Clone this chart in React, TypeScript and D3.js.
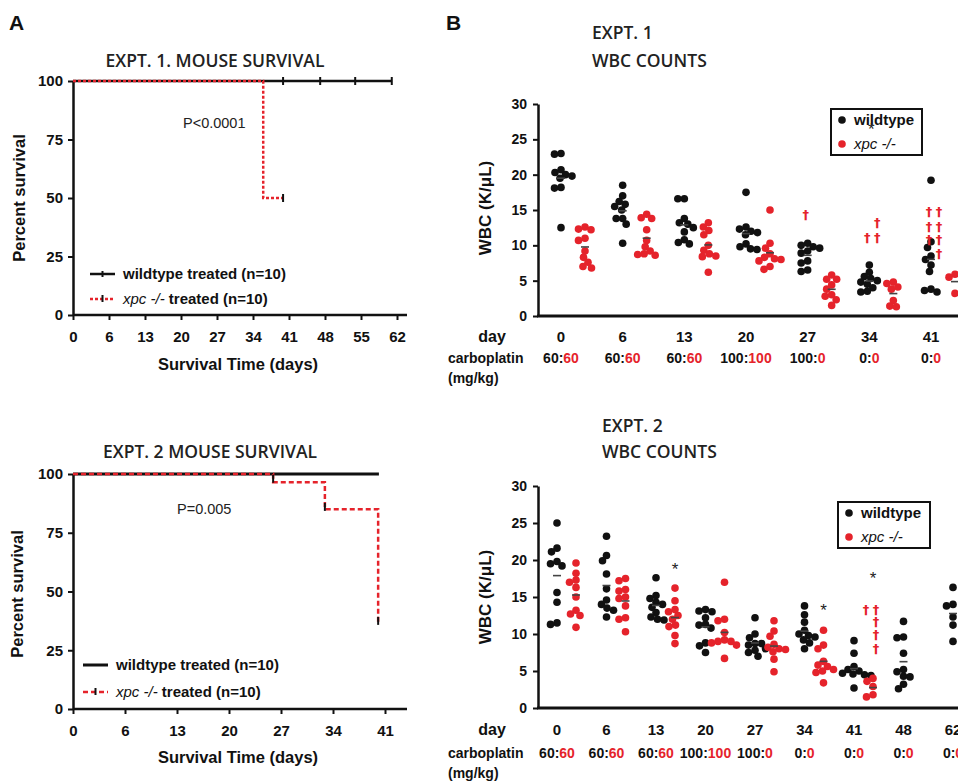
import React, { useEffect, useRef } from 'react';
import * as d3 from 'd3';

const RED = '#e5232b';
const INK = '#111';
const SANS = '"Liberation Sans", Arial, sans-serif';
const TITLE_FONT = '"Open Sans", sans-serif';

// ---- Panel A, expt 1 survival ----
const surv1Ticks = ['0', '6', '13', '20', '27', '34', '41', '48', '55', '62'];
const surv1Wt = [{ t: 0, s: 100 }, { t: 61, s: 100 }];
const surv1Xpc = [{ t: 0, s: 100 }, { t: 36.4, s: 50 }, { t: 40.2, s: 50 }];
const surv1Censor = [
    { t: 40.2, s: 100 }, { t: 47.3, s: 100 }, { t: 54, s: 100 }, { t: 61, s: 100 }, { t: 40.2, s: 50 }
];

// ---- Panel A, expt 2 survival ----
const surv2Ticks = ['0', '6', '13', '20', '27', '34', '41'];
const surv2Wt = [{ t: 0, s: 100 }, { t: 40.2, s: 100 }];
const surv2Xpc = [{ t: 0, s: 100 }, { t: 26.3, s: 96.5 }, { t: 33.1, s: 85 }, { t: 40.1, s: 36.6 }];
const surv2Censor = [{ t: 26.3, s: 98 }, { t: 33.1, s: 86 }, { t: 40.1, s: 37.5 }];

const survTickValues = [0, 25, 50, 75, 100];

// ---- Panel B, expt 1 WBC ----
const wbc1Days = ['0', '6', '13', '20', '27', '34', '41'];
const wbc1CarboWt = ['60', '60', '60', '100', '100', '0', '0'];
const wbc1CarboXpc = ['60', '60', '60', '100', '0', '0', '0'];
const wbc1Wt = [
    [23.0, 22.9, 20.7, 20.3, 20.0, 19.8, 19.5, 18.2, 18.1, 12.5],
    [18.5, 17.0, 16.2, 15.8, 15.5, 15.0, 13.8, 13.8, 13.0, 10.3],
    [16.6, 16.6, 13.8, 13.2, 13.0, 12.5, 11.9, 10.8, 10.4, 10.2],
    [17.5, 12.6, 12.3, 12.0, 11.8, 11.5, 10.2, 9.8, 9.5, 9.4],
    [10.3, 10.0, 9.8, 9.6, 9.2, 8.9, 7.8, 7.5, 6.5, 6.3],
    [7.2, 6.2, 5.6, 5.3, 5.0, 4.8, 4.5, 4.0, 3.5, 3.4],
    [19.2, 10.5, 9.7, 8.5, 8.0, 7.2, 6.3, 3.8, 3.6, 3.4]
];
const wbc1Xpc = [
    [12.6, 12.3, 12.2, 11.0, 10.7, 9.2, 8.3, 7.6, 7.0, 6.8],
    [14.4, 13.9, 13.8, 12.2, 10.7, 9.8, 9.2, 8.8, 8.7, 8.6],
    [13.2, 12.6, 12.1, 11.5, 10.0, 9.3, 8.8, 8.5, 8.4, 6.2],
    [15.0, 10.3, 9.6, 8.8, 8.3, 8.1, 8.0, 7.8, 7.0, 6.6],
    [5.8, 5.2, 5.2, 4.4, 3.8, 3.0, 2.8, 2.3, 1.5],
    [4.8, 4.6, 4.1, 3.8, 2.2, 1.4, 1.3],
    [5.9, 5.5, 3.2]
];
const wbc1Daggers = [
    { day: '27', v: 14.5, col: 0 },
    { day: '34', v: 11.2, col: 0 }, { day: '34', v: 11.2, col: 1 }, { day: '34', v: 13.3, col: 1 },
    { day: '41', v: 14.8, col: 0 }, { day: '41', v: 14.8, col: 1 },
    { day: '41', v: 12.8, col: 0 }, { day: '41', v: 12.8, col: 1 },
    { day: '41', v: 10.9, col: 0 }, { day: '41', v: 10.9, col: 1 },
    { day: '41', v: 8.9, col: 1 }
];
const wbc1Stars = [{ day: '34', v: 26.7 }];

// ---- Panel B, expt 2 WBC ----
const wbc2Days = ['0', '6', '13', '20', '27', '34', '41', '48', '62'];
const wbc2CarboWt = ['60', '60', '60', '100', '100', '0', '0', '0', '0'];
const wbc2CarboXpc = ['60', '60', '60', '100', '0', '0', '0', '0', '0'];
const wbc2Wt = [
    [25.0, 21.6, 21.1, 19.8, 19.5, 19.2, 15.6, 14.3, 11.5, 11.3],
    [23.2, 20.6, 19.9, 18.1, 16.1, 14.6, 14.0, 13.5, 13.2, 12.3],
    [17.6, 15.2, 14.8, 14.3, 14.0, 13.6, 12.9, 12.3, 12.0, 11.9],
    [13.3, 13.1, 13.0, 12.2, 11.3, 11.2, 10.8, 8.8, 8.4, 7.5],
    [12.2, 10.0, 9.5, 8.7, 8.7, 8.5, 8.0, 7.8, 7.5, 7.0],
    [13.8, 12.6, 11.6, 10.5, 10.0, 9.8, 9.6, 9.2, 8.8, 8.0],
    [9.1, 7.4, 5.6, 5.2, 5.0, 4.7, 4.6, 4.5, 4.4, 2.7],
    [11.7, 9.6, 9.5, 7.4, 5.2, 4.9, 4.3, 4.2, 3.2, 2.6],
    [16.3, 14.0, 13.8, 12.3, 11.2, 9.0]
];
const wbc2Xpc = [
    [19.6, 18.2, 17.3, 17.0, 16.3, 15.0, 13.2, 12.7, 12.5, 10.9],
    [17.5, 17.2, 16.0, 15.8, 15.0, 14.8, 13.8, 12.2, 12.0, 10.3],
    [16.2, 14.5, 13.3, 13.0, 12.5, 12.0, 11.2, 11.0, 9.8, 8.7],
    [17.0, 12.0, 11.8, 10.2, 9.2, 9.0, 9.0, 8.8, 8.5, 6.7],
    [11.8, 10.4, 9.7, 8.6, 8.2, 8.0, 7.9, 7.6, 6.6, 4.9],
    [10.5, 8.5, 8.0, 6.3, 5.8, 5.6, 5.2, 5.0, 4.8, 3.4],
    [4.0, 3.6, 2.9, 1.8, 1.5],
    [],
    []
];
const wbc2Daggers = [
    { day: '41', v: 13.4, col: 0 }, { day: '41', v: 13.4, col: 1 },
    { day: '41', v: 11.7, col: 1 }, { day: '41', v: 10.0, col: 1 }, { day: '41', v: 8.1, col: 1 }
];
const wbc2Stars = [{ day: '13', v: 19.0 }, { day: '34', v: 13.5 }, { day: '41', v: 17.8 }];

const wbcTickValues = [0, 5, 10, 15, 20, 25, 30];

// simple beeswarm: spread points sideways so they don't sit on each other
function swarm(vals: number[], cx: number, y: (v: number) => number, r: number) {
    const placed: { x: number, y: number }[] = [];
    const md = r * 1.7;
    const sorted = [...vals].sort((a, b) => b - a);
    for (const v of sorted) {
        const py = y(v);
        let best = cx;
        for (let k = 0; k < 80; k++) {
            const off = (k % 2 === 0 ? 1 : -1) * Math.ceil(k / 2) * 0.5;
            const px = cx + off;
            if (placed.every(p => Math.hypot(p.x - px, p.y - py) >= md)) { best = px; break; }
        }
        placed.push({ x: best, y: py });
    }
    return placed;
}

function drawSurvival(svg: any, c: any) {
    const x = d3.scaleLinear().domain([0, c.max]).range([c.left, c.right]);
    const y = d3.scaleLinear().domain([0, 100]).range([c.bottom, c.top]);
    const tickPos = c.ticks.map((_: string, i: number) => i * c.max / (c.ticks.length - 1));

    // axes
    const gx = svg.append('g')
        .attr('transform', 'translate(0,' + c.bottom + ')')
        .call(d3.axisBottom(x).tickValues(tickPos).tickSize(5).tickPadding(11).tickSizeOuter(0)
            .tickFormat((_: any, i: number) => c.ticks[i]));
    gx.select('.domain').attr('d', 'M' + c.left + ',0H' + c.axisEnd);
    const gy = svg.append('g')
        .attr('transform', 'translate(' + c.left + ',0)')
        .call(d3.axisLeft(y).tickValues(survTickValues).tickSize(5).tickPadding(5).tickSizeOuter(0));
    [gx, gy].forEach(g => {
        g.select('.domain').attr('stroke', INK).attr('stroke-width', 2.5);
        g.selectAll('.tick line').attr('stroke', INK).attr('stroke-width', 2);
        g.selectAll('.tick text').attr('fill', INK).style('font-family', SANS)
            .style('font-size', '15px').style('font-weight', 'bold');
    });

    // curves
    const line = d3.line<any>().x(d => x(d.t)).y(d => y(d.s)).curve(d3.curveStepAfter);
    svg.append('path').datum(c.wt).attr('d', line).attr('fill', 'none')
        .attr('stroke', INK).attr('stroke-width', c.wtWidth);
    svg.append('path').datum(c.xpc).attr('d', line).attr('fill', 'none')
        .attr('stroke', RED).attr('stroke-width', 2.5).attr('stroke-dasharray', c.dash);
    svg.append('g').selectAll('line').data(c.censor).enter().append('line')
        .attr('x1', (d: any) => x(d.t)).attr('x2', (d: any) => x(d.t))
        .attr('y1', (d: any) => y(d.s) - 4).attr('y2', (d: any) => y(d.s) + 4)
        .attr('stroke', INK).attr('stroke-width', 2);

    // title, p value
    svg.append('text').attr('x', c.titleX).attr('y', c.titleY).attr('text-anchor', 'middle')
        .style('font-family', TITLE_FONT).style('font-size', '17.5px').style('font-weight', 600)
        .attr('fill', '#222').text(c.title);
    svg.append('text').attr('x', c.pX).attr('y', c.pY)
        .style('font-family', SANS).style('font-size', '14.5px').attr('fill', '#222').text(c.pText);

    // legend
    const lg = svg.append('g');
    lg.append('line').attr('x1', c.legX).attr('x2', c.legX + 25).attr('y1', c.legY1).attr('y2', c.legY1)
        .attr('stroke', INK).attr('stroke-width', c.wtWidth);
    if (c.wtLegTick) {
        lg.append('line').attr('x1', c.legX + 12.5).attr('x2', c.legX + 12.5)
            .attr('y1', c.legY1 - 3).attr('y2', c.legY1 + 3).attr('stroke', INK).attr('stroke-width', 2);
    }
    lg.append('line').attr('x1', c.legX).attr('x2', c.legX + 25).attr('y1', c.legY2).attr('y2', c.legY2)
        .attr('stroke', RED).attr('stroke-width', 2.5).attr('stroke-dasharray', c.dash);
    lg.append('line').attr('x1', c.legX + 12.5).attr('x2', c.legX + 12.5)
        .attr('y1', c.legY2 - 4).attr('y2', c.legY2 + 3).attr('stroke', INK).attr('stroke-width', 2);
    lg.append('text').attr('x', c.legX + 33).attr('y', c.legY1 + 5)
        .style('font-family', SANS).style('font-size', '15px').style('font-weight', 'bold')
        .attr('fill', INK).text('wildtype treated (n=10)');
    const t2 = lg.append('text').attr('x', c.legX + 33).attr('y', c.legY2 + 5)
        .style('font-family', SANS).style('font-size', '15px').attr('fill', INK);
    t2.append('tspan').style('font-style', 'italic').text('xpc -/-');
    t2.append('tspan').style('font-weight', 'bold').text(' treated (n=10)');

    // axis labels
    svg.append('text').attr('x', 238).attr('y', c.xlabelY).attr('text-anchor', 'middle')
        .style('font-family', SANS).style('font-size', '16.5px').style('font-weight', 'bold')
        .attr('fill', INK).text('Survival Time (days)');
    svg.append('text').attr('transform', 'translate(' + c.ylabelX + ',' + c.ylabelY + ') rotate(-90)')
        .attr('text-anchor', 'middle')
        .style('font-family', SANS).style('font-size', '16.5px').style('font-weight', 'bold')
        .attr('fill', INK).text('Percent survival');
}

function drawWbc(svg: any, c: any) {
    const y = d3.scaleLinear().domain([0, 30]).range([c.bottom, c.top]);
    const x = d3.scalePoint().domain(c.days).range([c.xFirst, c.xLast]);
    const r = 3.8;

    // axes
    const gy = svg.append('g')
        .attr('transform', 'translate(' + c.left + ',0)')
        .call(d3.axisLeft(y).tickValues(wbcTickValues).tickSize(5).tickPadding(6).tickSizeOuter(0));
    gy.select('.domain').attr('stroke', INK).attr('stroke-width', 2.5);
    gy.selectAll('.tick line').attr('stroke', INK).attr('stroke-width', 2);
    gy.selectAll('.tick text').attr('fill', INK).style('font-family', SANS)
        .style('font-size', '14px').style('font-weight', 'bold');
    svg.append('line').attr('x1', c.left - 1).attr('x2', 958).attr('y1', c.bottom).attr('y2', c.bottom)
        .attr('stroke', INK).attr('stroke-width', 3);

    // dots and means
    const groups: any[] = [];
    c.days.forEach((d: string, i: number) => {
        groups.push({ cx: x(d)!, vals: c.wt[i], color: INK });
        groups.push({ cx: x(d)! + c.gDx, vals: c.xpc[i], color: RED });
    });
    groups.forEach(g => {
        if (!g.vals.length) return;
        const pts = swarm(g.vals, g.cx, y, r);
        svg.append('g').selectAll('circle').data(pts).enter().append('circle')
            .attr('cx', (p: any) => p.x).attr('cy', (p: any) => p.y).attr('r', r).attr('fill', g.color);
        const m = d3.mean(g.vals) as number;
        svg.append('line').attr('x1', g.cx - 4).attr('x2', g.cx + 4).attr('y1', y(m)).attr('y2', y(m))
            .attr('stroke', '#444').attr('stroke-width', 1.6);
    });

    // daggers
    svg.append('g').selectAll('text').data(c.daggers).enter().append('text')
        .attr('x', (d: any) => x(d.day)! + c.dagDx + d.col * 10)
        .attr('y', (d: any) => y(d.v) + 5).attr('text-anchor', 'middle')
        .style('font-family', '"DejaVu Sans", sans-serif').style('font-size', '13px')
        .style('font-weight', 'bold').attr('fill', RED).text('\u2020');

    // day / carboplatin rows
    const rowStyle = (t: any, size: string) => t.style('font-family', SANS).style('font-size', size)
        .style('font-weight', 'bold').attr('fill', INK);
    rowStyle(svg.append('text').attr('x', 492).attr('y', c.dayY).attr('text-anchor', 'middle'), '16px').text('day');
    rowStyle(svg.append('text').attr('x', 448).attr('y', c.carboY), '14px').text('carboplatin');
    rowStyle(svg.append('text').attr('x', 448).attr('y', c.carboY + 20), '14px').text('(mg/kg)');
    c.days.forEach((d: string, i: number) => {
        rowStyle(svg.append('text').attr('x', x(d)).attr('y', c.dayY).attr('text-anchor', 'middle'), '15px').text(d);
        const t = rowStyle(svg.append('text').attr('x', x(d)).attr('y', c.carboY).attr('text-anchor', 'middle'), '14px');
        t.append('tspan').text(c.carboWt[i] + ':');
        t.append('tspan').attr('fill', RED).text(c.carboXpc[i]);
    });

    // legend
    const lg = svg.append('g');
    lg.append('rect').attr('x', c.legX).attr('y', c.legY).attr('width', c.legW).attr('height', 46)
        .attr('fill', 'white').attr('stroke', INK).attr('stroke-width', 2);
    lg.append('circle').attr('cx', c.legX + 11).attr('cy', c.legY + 11).attr('r', r).attr('fill', INK);
    lg.append('circle').attr('cx', c.legX + 11).attr('cy', c.legY + 35).attr('r', r).attr('fill', RED);
    lg.append('text').attr('x', c.legX + 23).attr('y', c.legY + 16)
        .style('font-family', SANS).style('font-size', '15px').style('font-weight', 'bold')
        .attr('fill', INK).text('wildtype');
    lg.append('text').attr('x', c.legX + 23).attr('y', c.legY + 40)
        .style('font-family', SANS).style('font-size', '15px').style('font-style', 'italic')
        .attr('fill', INK).text('xpc -/-');

    // asterisks (drawn last; in expt 1 it sits over the legend as in the source figure)
    svg.append('g').selectAll('text').data(c.stars).enter().append('text')
        .attr('x', (d: any) => x(d.day)! + c.starDx)
        .attr('y', (d: any) => y(d.v) + 8).attr('text-anchor', 'middle')
        .style('font-family', SANS).style('font-size', '17px').attr('fill', '#222').text('*');

    // titles and y label
    const title = (yy: number, s: string) => svg.append('text').attr('x', c.titleX).attr('y', yy)
        .style('font-family', TITLE_FONT).style('font-size', '17.5px').style('font-weight', 600)
        .attr('fill', '#222').text(s);
    title(c.titleY1, c.title);
    title(c.titleY2, 'WBC COUNTS');
    svg.append('text').attr('transform', 'translate(' + c.ylabelX + ',' + c.ylabelY + ') rotate(-90)')
        .attr('text-anchor', 'middle')
        .style('font-family', SANS).style('font-size', '17px').style('font-weight', 'bold')
        .attr('fill', INK).text('WBC (K/\u03bcL)');
}

export default function App() {
    const ref = useRef<SVGSVGElement>(null);
    useEffect(() => {
        const svg = d3.select(ref.current);
        svg.selectAll('*').remove();

        // panel letters
        svg.append('text').attr('x', 9).attr('y', 30).style('font-family', SANS)
            .style('font-size', '21px').style('font-weight', 'bold').attr('fill', INK).text('A');
        svg.append('text').attr('x', 446).attr('y', 30).style('font-family', SANS)
            .style('font-size', '21px').style('font-weight', 'bold').attr('fill', INK).text('B');

        drawSurvival(svg, {
            ticks: surv1Ticks, max: 62, left: 73, right: 397, axisEnd: 407, top: 81, bottom: 315,
            wt: surv1Wt, xpc: surv1Xpc, censor: surv1Censor, dash: '3,2', wtWidth: 2.5, wtLegTick: true,
            title: 'EXPT. 1. MOUSE SURVIVAL', titleX: 215, titleY: 67,
            pText: 'P<0.0001', pX: 183, pY: 128,
            legX: 90, legY1: 274, legY2: 299,
            xlabelY: 370, ylabelX: 25, ylabelY: 198
        });
        drawSurvival(svg, {
            ticks: surv2Ticks, max: 41, left: 73, right: 385, axisEnd: 407, top: 474, bottom: 709,
            wt: surv2Wt, xpc: surv2Xpc, censor: surv2Censor, dash: '5,3', wtWidth: 3, wtLegTick: false,
            title: 'EXPT. 2 MOUSE SURVIVAL', titleX: 210, titleY: 458,
            pText: 'P=0.005', pX: 177, pY: 514,
            legX: 83, legY1: 665, legY2: 692,
            xlabelY: 763, ylabelX: 23, ylabelY: 594
        });

        drawWbc(svg, {
            days: wbc1Days, wt: wbc1Wt, xpc: wbc1Xpc, carboWt: wbc1CarboWt, carboXpc: wbc1CarboXpc,
            daggers: wbc1Daggers, stars: wbc1Stars, dagDx: -2, starDx: 2,
            left: 538, top: 104, bottom: 316, xFirst: 561, xLast: 931, gDx: 24,
            dayY: 342, carboY: 363,
            legX: 831, legY: 109, legW: 91,
            title: 'EXPT. 1', titleX: 592, titleY1: 39, titleY2: 67,
            ylabelX: 491, ylabelY: 208
        });
        drawWbc(svg, {
            days: wbc2Days, wt: wbc2Wt, xpc: wbc2Xpc, carboWt: wbc2CarboWt, carboXpc: wbc2CarboXpc,
            daggers: wbc2Daggers, stars: wbc2Stars, dagDx: 12, starDx: 19,
            left: 538, top: 486, bottom: 708, xFirst: 557, xLast: 953, gDx: 19,
            dayY: 735, carboY: 758,
            legX: 838, legY: 502, legW: 92,
            title: 'EXPT. 2', titleX: 602, titleY1: 432, titleY2: 458,
            ylabelX: 491, ylabelY: 597
        });
    }, []);
    return (
        <svg ref={ref} width={958} height={784}
            style={{ position: 'absolute', left: 0, top: 0, background: '#fff' }} />
    );
}
